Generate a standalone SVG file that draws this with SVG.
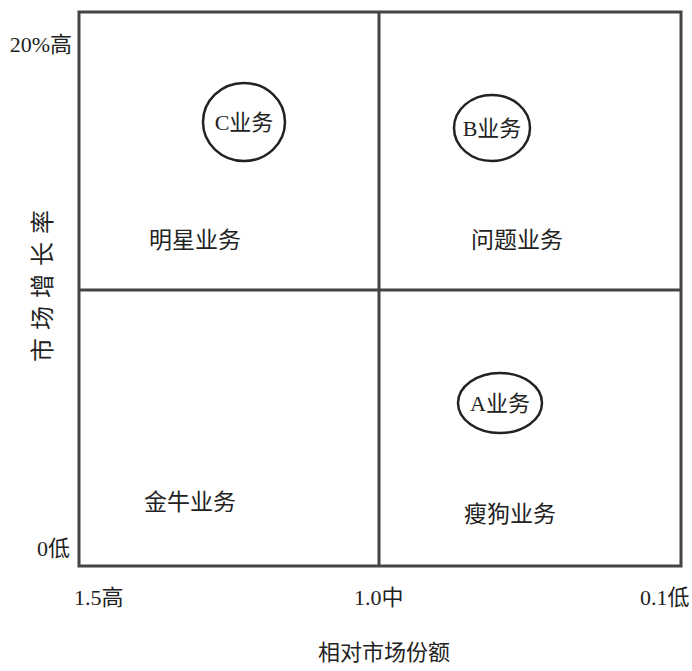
<svg xmlns="http://www.w3.org/2000/svg" width="692" height="671" viewBox="0 0 692 671">
<style>
text{font-family:"Liberation Serif","Noto Sans CJK SC",serif;fill:#222;font-size:22px}
.m{text-anchor:middle}
.q{font-size:23px}
.ax{stroke:#444;stroke-width:3;fill:none}
.el{stroke:#222;stroke-width:2.5;fill:#fff}
</style>
<rect width="692" height="671" fill="#fff"/>
<g id="frame">
<rect class="ax" x="79" y="12" width="602" height="554"/>
<line class="ax" x1="379" y1="12" x2="379" y2="566"/>
<line class="ax" x1="79" y1="290" x2="681" y2="290"/>
</g>
<g id="axis-labels">
<text x="72" y="52" style="text-anchor:end">20%高</text>
<text x="70" y="556" style="text-anchor:end">0低</text>
<text x="74" y="605">1.5高</text>
<text x="354" y="605">1.0中</text>
<text x="640" y="605">0.1低</text>
<text class="m" x="384" y="660">相对市场份额</text>
<text class="m" transform="translate(51,282) rotate(-90)" style="font-size:24px;letter-spacing:8px">市场增长率</text>
</g>
<g id="star"><text class="m q" x="195" y="248">明星业务</text></g>
<g id="question"><text class="m q" x="517" y="248">问题业务</text></g>
<g id="cow"><text class="m q" x="190" y="510">金牛业务</text></g>
<g id="dog"><text class="m q" x="510" y="522">瘦狗业务</text></g>
<g id="C"><ellipse class="el" cx="244" cy="122" rx="41" ry="39"/><text class="m" x="244" y="130">C业务</text></g>
<g id="B"><ellipse class="el" cx="492" cy="128" rx="38" ry="33"/><text class="m" x="492" y="136">B业务</text></g>
<g id="A"><ellipse class="el" cx="500" cy="403" rx="42" ry="30"/><text class="m" x="500" y="411">A业务</text></g>
</svg>
